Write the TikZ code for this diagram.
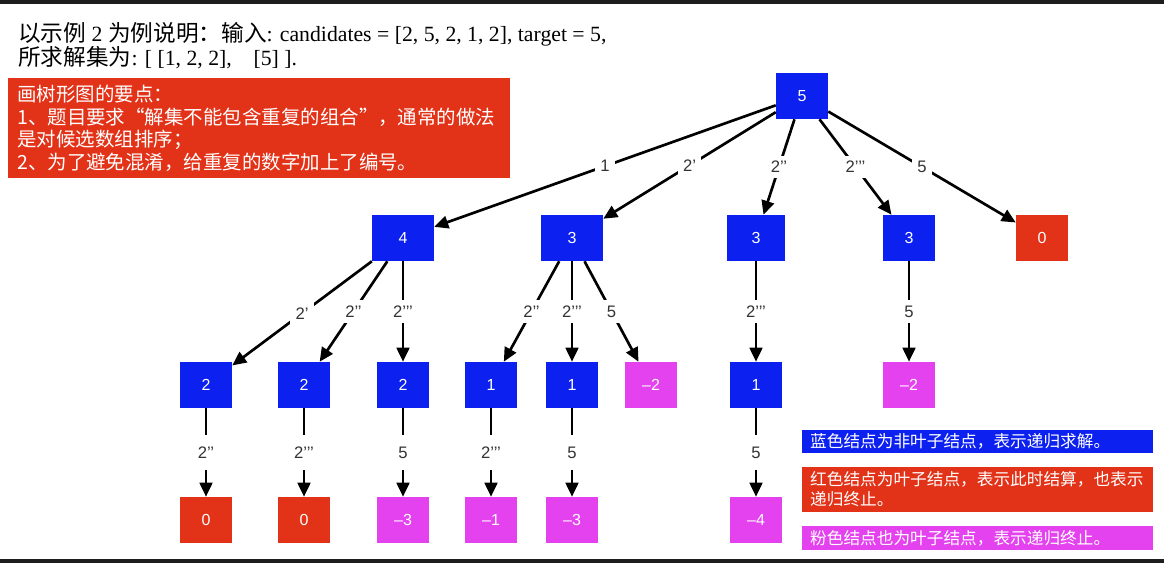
\documentclass[tikz,border=0pt]{standalone}
\usepackage{fontspec}
\setmainfont{Liberation Serif}
\newfontfamily\cjk{Noto Sans CJK SC}
\newfontfamily\lab{Liberation Sans}
\usetikzlibrary{arrows.meta}

\definecolor{nodeblue}{RGB}{12,32,240}
\definecolor{nodered}{RGB}{226,50,24}
\definecolor{nodepink}{RGB}{228,66,238}
\definecolor{barcol}{RGB}{30,30,30}

\tikzset{
	bx/.style={fill=nodeblue, text=white, inner sep=0pt, minimum width=39pt, minimum height=34.5pt, font=\lab\fontsize{12}{14}\selectfont},
	wbx/.style={bx, minimum width=46.5pt},
	rbx/.style={bx, fill=nodered},
	pbx/.style={bx, fill=nodepink},
	arr/.style={line width=2pt, -{Triangle[length=10.5pt, width=9.5pt]}},
	lbl/.style={fill=white, inner sep=4pt, text=black!80, font=\lab\fontsize{12.5}{14}\selectfont},
	keybox/.style={text=white, inner xsep=6pt, inner ysep=0pt, minimum width=263pt, text width=251pt, align=left, font=\cjk\fontsize{12.5}{15}\selectfont}
}

\begin{document}
\begin{tikzpicture}[x=0.75pt, y=-0.75pt]
	\useasboundingbox (0,0) rectangle (1164,563);
	\fill[barcol] (0,0) rectangle (1164,4);
	\fill[barcol] (0,559) rectangle (1164,563);
	% title and note
	\node[anchor=base west, inner sep=0pt, font=\fontsize{16.3}{18}\selectfont] (T1) at (18,42) {{\cjk\fontsize{17}{18}\selectfont 以示例} 2 {\cjk\fontsize{17}{18}\selectfont 为例说明：输入}: candidates = [2, 5, 2, 1, 2], target = 5,};
	\node[anchor=base west, inner sep=0pt, font=\fontsize{16.3}{18}\selectfont] (T2) at (18,66) {{\cjk\fontsize{17}{18}\selectfont 所求解集为}: [ [1, 2, 2],\quad [5] ].};
	\node[fill=nodered, text=white, anchor=north west, inner xsep=6.75pt, inner ysep=0pt, minimum width=376.5pt, minimum height=75pt, text width=363pt, align=left, font=\cjk\fontsize{14.6}{16.9}\selectfont] (Nt) at (8,78) {画树形图的要点：\\1、题目要求“解集不能包含重复的组合”，通常的做法\\是对候选数组排序；\\2、为了避免混淆，给重复的数字加上了编号。};
	% tree
	\node[bx] (R) at (802,96) {5};
	\node[wbx] (A1) at (403,238) {4};
	\node[wbx] (A2) at (572,238) {3};
	\node[bx, minimum width=44pt] (A3) at (756,238) {3};
	\node[bx] (A4) at (909,238) {3};
	\node[rbx] (A5) at (1042,238) {0};
	\node[bx] (B1) at (206,385) {2};
	\node[bx] (B2) at (304,385) {2};
	\node[bx] (B3) at (403,385) {2};
	\node[bx] (B4) at (491,385) {1};
	\node[bx] (B5) at (572,385) {1};
	\node[pbx] (B6) at (651,385) {–2};
	\node[bx] (B7) at (756,385) {1};
	\node[pbx] (B8) at (909,385) {–2};
	\node[rbx] (C1) at (206,520) {0};
	\node[rbx] (C2) at (304,520) {0};
	\node[pbx] (C3) at (403,520) {–3};
	\node[pbx] (C4) at (491,520) {–1};
	\node[pbx] (C5) at (572,520) {–3};
	\node[pbx] (C6) at (756,520) {–4};
	\draw[arr] (R) -- node[lbl] {1} (A1);
	\draw[arr] (R) -- node[lbl] {2’} (A2);
	\draw[arr] (R) -- node[lbl] {2’’} (A3);
	\draw[arr] (R) -- node[lbl] {2’’’} (A4);
	\draw[arr] (R) -- node[lbl] {5} (A5);
	\draw[arr] (A1) -- node[lbl] {2’} (B1);
	\draw[arr] (A1) -- node[lbl] {2’’} (B2);
	\draw[arr] (A1) -- node[lbl] {2’’’} (B3);
	\draw[arr] (A2) -- node[lbl] {2’’} (B4);
	\draw[arr] (A2) -- node[lbl] {2’’’} (B5);
	\draw[arr] (A2) -- node[lbl] {5} (B6);
	\draw[arr] (A3) -- node[lbl] {2’’’} (B7);
	\draw[arr] (A4) -- node[lbl] {5} (B8);
	\draw[arr] (B1) -- node[lbl, inner ysep=9pt] {2’’} (C1);
	\draw[arr] (B2) -- node[lbl, inner ysep=9pt] {2’’’} (C2);
	\draw[arr] (B3) -- node[lbl, inner ysep=9pt] {5} (C3);
	\draw[arr] (B4) -- node[lbl, inner ysep=9pt] {2’’’} (C4);
	\draw[arr] (B5) -- node[lbl, inner ysep=9pt] {5} (C5);
	\draw[arr] (B7) -- node[lbl, inner ysep=9pt] {5} (C6);
	% legend
	\node[keybox, fill=nodeblue, minimum height=17.25pt] (L1) at (977.5,441.5) {蓝色结点为非叶子结点，表示递归求解。};
	\node[keybox, fill=nodered, minimum height=33.75pt] (L2) at (977.5,489.5) {红色结点为叶子结点，表示此时结算，也表示\\递归终止。};
	\node[keybox, fill=nodepink, minimum height=18pt] (L3) at (977.5,538) {粉色结点也为叶子结点，表示递归终止。};
\end{tikzpicture}
\end{document}
